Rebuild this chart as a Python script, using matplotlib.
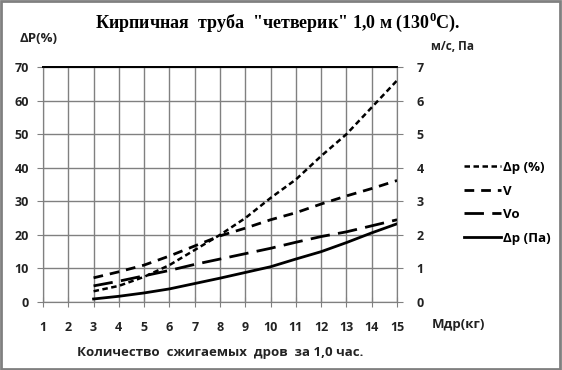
import matplotlib
matplotlib.use("Agg")
import matplotlib.pyplot as plt
from matplotlib.lines import Line2D
from matplotlib.patches import Rectangle

plt.rcParams['mathtext.fontset'] = 'custom'
plt.rcParams['mathtext.bf'] = 'Liberation Serif:bold'
plt.rcParams['mathtext.rm'] = 'Liberation Serif:bold'

# data
mass = [3, 4, 5, 6, 7, 8, 9, 10, 11, 12, 13, 14, 15]
dp_pct = [3.2, 4.8, 7.5, 11, 15.5, 20, 25, 31, 36.5, 43.5, 50, 58, 66]
v = [0.72, 0.9, 1.1, 1.37, 1.67, 1.97, 2.2, 2.45, 2.66, 2.92, 3.16, 3.38, 3.62]
vo = [0.48, 0.62, 0.78, 0.94, 1.12, 1.28, 1.44, 1.6, 1.78, 1.95, 2.09, 2.27, 2.45]
dp_pa = [0.09, 0.17, 0.27, 0.39, 0.55, 0.71, 0.88, 1.05, 1.28, 1.5, 1.77, 2.06, 2.33]

x_ticks = list(range(1, 16))
left_ticks = [0, 10, 20, 30, 40, 50, 60, 70]
right_ticks = [0, 1, 2, 3, 4, 5, 6, 7]

grey = '#808080'
sans = 'Open Sans'
lab_font = dict(family=sans, weight='bold', color='#222222')

fig = plt.figure(figsize=(5.62, 3.70), dpi=100)
ax = fig.add_axes([0.0765, 0.1838, 0.63, 0.635])
ax2 = ax.twinx()

ax.plot(mass, dp_pct, color='black', lw=1.8, dashes=(2.2, 1.4))
ax2.plot(mass, v, color='black', lw=2, dashes=(3.5, 2.5))
ax2.plot(mass, vo, color='black', lw=2, dashes=(7, 3))
ax2.plot(mass, dp_pa, color='black', lw=2)

ax.set_xlim(1, 15)
ax.set_ylim(0, 70)
ax2.set_ylim(0, 7)
ax.set_xticks(x_ticks)
ax.set_yticks(left_ticks)
ax2.set_yticks(right_ticks)
ax.grid(True, color=grey, lw=1)
ax.set_axisbelow(True)

for sp in ['left', 'right', 'bottom']:
    ax.spines[sp].set_color(grey)
    ax2.spines[sp].set_color(grey)
ax.spines['top'].set_color('black')
ax2.spines['top'].set_color('black')
ax.spines['top'].set_linewidth(1.3)
ax2.spines['top'].set_linewidth(1.3)

ax.tick_params(axis='x', direction='inout', length=7, color=grey, pad=10)
ax.tick_params(axis='y', direction='out', length=4, color=grey, pad=6)
ax2.tick_params(axis='y', direction='out', length=4, color=grey, pad=10)
for lab in ax.get_xticklabels() + ax.get_yticklabels() + ax2.get_yticklabels():
    lab.set_fontfamily(sans)
    lab.set_fontweight('bold')
    lab.set_fontsize(9)
    lab.set_color('#222222')

fig.text(0.495, 0.94, 'Кирпичная  труба  "четверик" 1,0 м (130$^{\\mathbf{0}}$С).',
         ha='center', va='center', family='Liberation Serif', weight='bold', size=13)
fig.text(0.068, 0.897, 'ΔP(%)', ha='center', va='center', size=9.5, **lab_font)
fig.text(0.805, 0.873, 'м/с, Па', ha='center', va='center', size=8.5, **lab_font)
fig.text(0.815, 0.122, 'Мдр(кг)', ha='center', va='center', size=9.5, **lab_font)
fig.text(0.392, 0.048, 'Количество  сжигаемых  дров  за 1,0 час.', ha='center',
         va='center', size=9.5, **lab_font)

handles = [
    Line2D([], [], color='black', lw=1.8, dashes=(2.2, 1.4)),
    Line2D([], [], color='black', lw=2, dashes=(3.5, 2.5)),
    Line2D([], [], color='black', lw=2, dashes=(7, 3)),
    Line2D([], [], color='black', lw=2),
]
labels = ['Δp (%)', 'V', 'Vo', 'Δp (Па)']
fig.legend(handles, labels, loc='upper left', bbox_to_anchor=(0.805, 0.597),
           frameon=False, handlelength=2.8, handletextpad=0.1, labelspacing=0.8,
           prop=dict(family=sans, weight='bold', size=9.5))

fig.add_artist(Rectangle((0.002, 0.003), 0.995, 0.993, transform=fig.transFigure,
                         fill=False, edgecolor=grey, lw=2))

fig.savefig('out.png', dpi=100)
